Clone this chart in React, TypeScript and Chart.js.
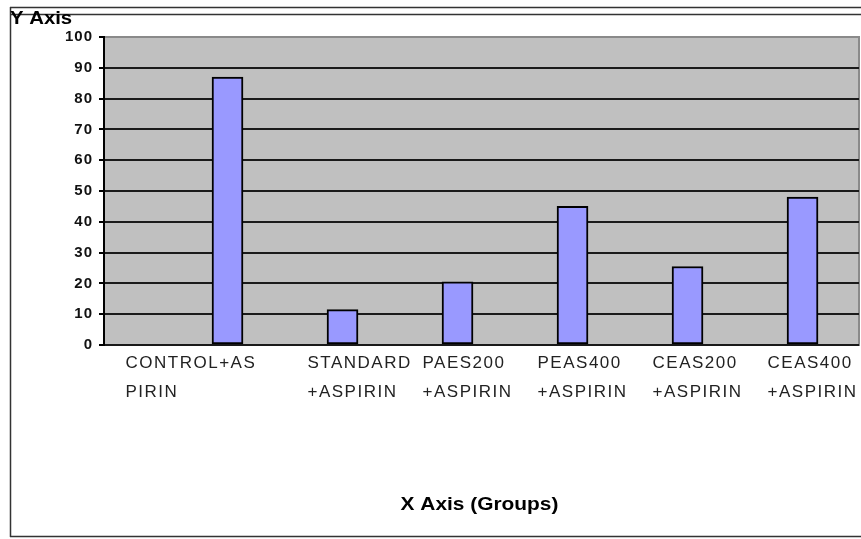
import React, { useEffect, useRef } from "react";
import { Chart, registerables } from "chart.js";

Chart.register(...registerables);

const categoryLines: string[][] = [
  ["CONTROL+AS", "PIRIN"],
  ["STANDARD", "+ASPIRIN"],
  ["PAES200", "+ASPIRIN"],
  ["PEAS400", "+ASPIRIN"],
  ["CEAS200", "+ASPIRIN"],
  ["CEAS400", "+ASPIRIN"],
];
const values: number[] = [87, 11.5, 20.5, 45, 25.5, 48];
const yMin = 0;
const yMax = 100;
const yStep = 10;
const xTitle = "X Axis (Groups)";
const yTitle = "Y Axis";

const W = 861;
const H = 539;
const FIRST_LABEL_SHIFT = -67;

const decorPlugin = {
  id: "decor",
  beforeDraw(chart: any) {
    const { ctx, chartArea } = chart;
    const patch = (sc: any, ls: string, shiftFirst: boolean) => {
      if (sc && !sc.__lsPatched) {
        const orig = sc.drawLabels;
        sc.drawLabels = function (a: any) {
          if (shiftFirst) {
            const items = this.getLabelItems(a);
            if (items && items.length && !(items as any).__shifted) {
              items[0].options.translation[0] += FIRST_LABEL_SHIFT;
              (items as any).__shifted = true;
            }
          }
          this.ctx.save();
          (this.ctx as any).letterSpacing = ls;
          orig.call(this, a);
          this.ctx.restore();
        };
        sc.__lsPatched = true;
      }
    };
    patch(chart.scales.x, "1.5px", true);
    patch(chart.scales.y, "1px", false);
    ctx.save();
    ctx.fillStyle = "#ffffff";
    ctx.fillRect(0, 0, W, H);
    ctx.fillStyle = "#c0c0c0";
    ctx.fillRect(chartArea.left, chartArea.top, chartArea.right - chartArea.left, chartArea.bottom - chartArea.top);
    ctx.strokeStyle = "#8a8a8a";
    ctx.lineWidth = 2;
    ctx.strokeRect(chartArea.left, chartArea.top, chartArea.right - chartArea.left, chartArea.bottom - chartArea.top);
    ctx.restore();
  },
  afterDraw(chart: any) {
    const { ctx, chartArea } = chart;
    ctx.save();
    ctx.strokeStyle = "#333";
    ctx.lineWidth = 1.5;
    ctx.beginPath();
    ctx.moveTo(10, 7.5);
    ctx.lineTo(W, 7.5);
    ctx.moveTo(10, 14.5);
    ctx.lineTo(W, 14.5);
    ctx.moveTo(10.5, 7);
    ctx.lineTo(10.5, 537);
    ctx.moveTo(10, 536.5);
    ctx.lineTo(W, 536.5);
    ctx.stroke();

    ctx.fillStyle = "#000";
    ctx.textBaseline = "alphabetic";
    ctx.font = "bold 18px 'Liberation Sans', Arial, sans-serif";
    ctx.save();
    ctx.translate(10, 24);
    ctx.scale(1.13, 1);
    ctx.textAlign = "left";
    ctx.fillText(yTitle, 0, 0);
    ctx.restore();

    ctx.save();
    ctx.translate((chartArea.left + chartArea.right) / 2 - 2, 510);
    ctx.scale(1.16, 1);
    ctx.textAlign = "center";
    ctx.fillText(xTitle, 0, 0);
    ctx.restore();
    ctx.restore();
  },
};

export default function App() {
  const ref = useRef<HTMLCanvasElement | null>(null);
  useEffect(() => {
    if (!ref.current) return;
    const chart = new Chart(ref.current, {
      type: "bar",
      data: {
        datasets: [
          {
            data: values.map((v, i) => ({ x: i, y: v })),
            backgroundColor: "#9999ff",
            borderColor: "#000",
            borderWidth: 2,
            borderSkipped: false,
            barThickness: 31,
          },
        ],
      },
      options: {
        animation: false,
        responsive: false,
        maintainAspectRatio: false,
        layout: { padding: { left: 0, right: 2, top: 37, bottom: 0 } },
        plugins: {
          legend: { display: false },
          tooltip: { enabled: false },
          title: { display: false },
        },
        scales: {
          x: {
            type: "linear",
            min: -1.074,
            max: 5.491,
            offset: false,
            grid: { display: false, drawTicks: false },
            border: { display: false },
            afterBuildTicks: (scale: any) => {
              scale.ticks = categoryLines.map((_, i) => ({ value: i }));
            },
            afterFit: (scale: any) => {
              scale.height = 194;
              scale.paddingLeft = 0;
              scale.paddingRight = 0;
            },
            ticks: {
              autoSkip: false,
              maxRotation: 0,
              minRotation: 0,
              align: "start",
              labelOffset: -35,
              padding: 3.5,
              color: "#222",
              font: { family: "'Liberation Sans', Arial, sans-serif", size: 17, lineHeight: 1.7 },
              callback: (v: any) => {
                const i = Math.round(Number(v));
                return categoryLines[i] ?? "";
              },
            },
          },
          y: {
            min: yMin,
            max: yMax,
            afterFit: (scale: any) => {
              scale.width = 104;
            },
            grid: {
              color: (c: any) => (c.tick && c.tick.value === yMax ? "#8a8a8a" : "#1a1a1a"),
              tickColor: "#000",
              lineWidth: 2,
              tickLength: 5,
              drawTicks: true,
            },
            border: { display: true, color: "#000", width: 2 },
            ticks: {
              stepSize: yStep,
              padding: 6,
              color: "#111",
              font: { family: "'Liberation Sans', Arial, sans-serif", size: 15, weight: "bold" },
            },
          },
        },
      },
      plugins: [decorPlugin],
    } as any);
    return () => chart.destroy();
  }, []);
  return (
    <div style={{ position: "fixed", left: 0, top: 0, width: W, height: H, background: "#fff" }}>
      <canvas ref={ref} width={W} height={H} />
    </div>
  );
}
